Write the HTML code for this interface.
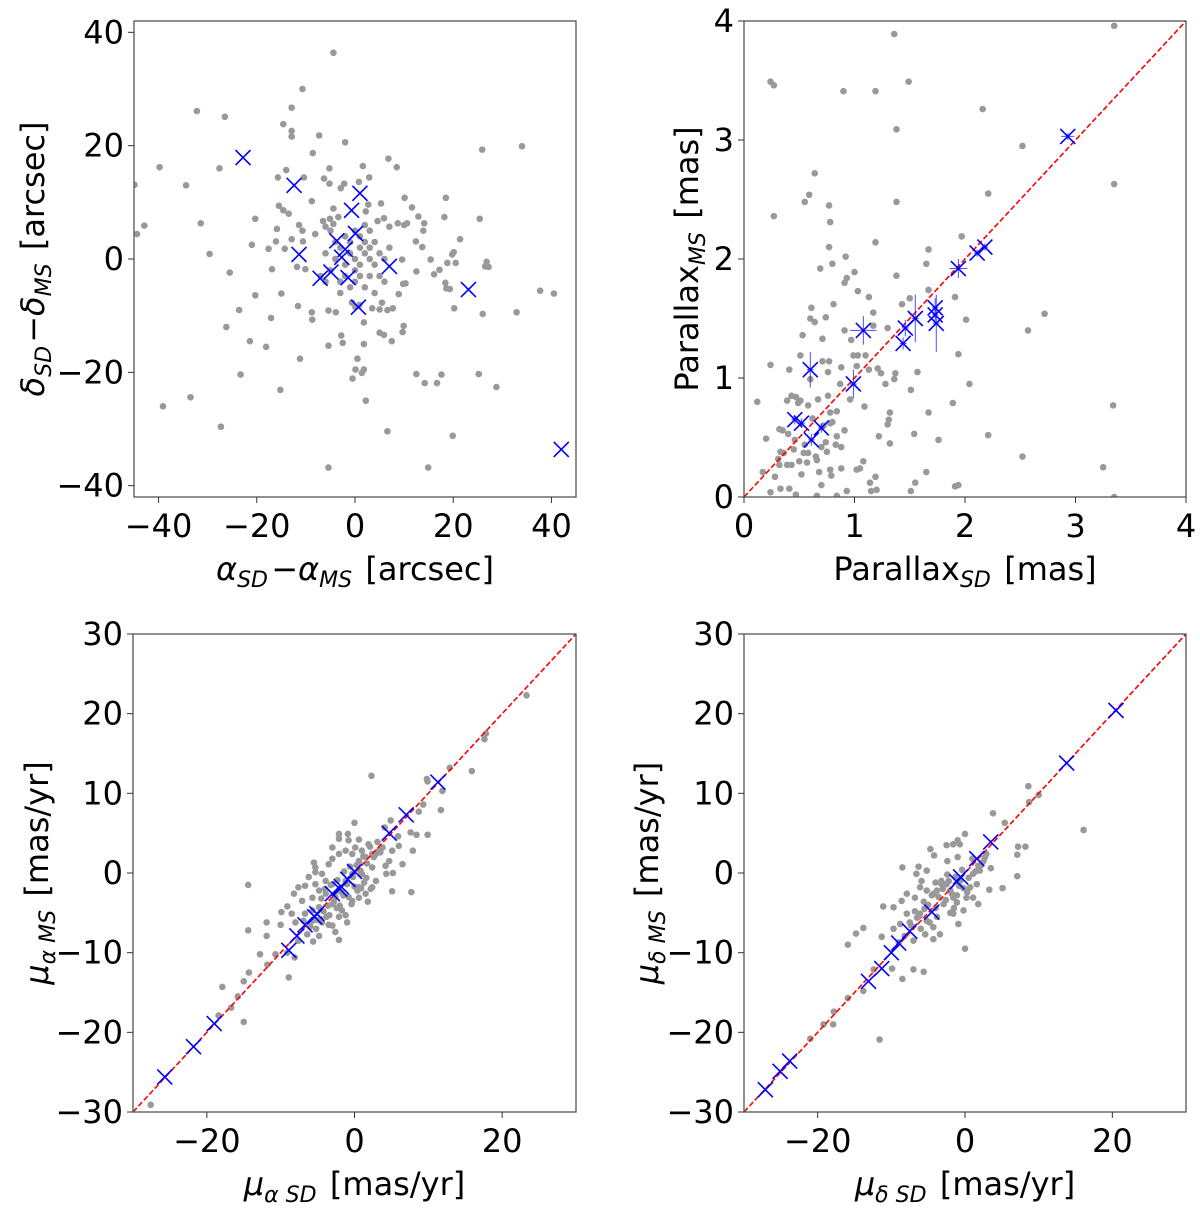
<!DOCTYPE html>
<html><head><meta charset="utf-8"><style>
html,body{margin:0;padding:0;background:#fff;}
svg{display:block;}
text{font-family:"DejaVu Sans","Liberation Sans",sans-serif;fill:#000;}
</style></head><body>
<svg id="fig" width="1200" height="1208" viewBox="0 0 1200 1208" xmlns="http://www.w3.org/2000/svg"></svg>
<script>
// ---- Panel 1: position offsets ----
const p1GrayX=[-4.4,-10.7,-32.2,-26.5,-12.9,-14.6,-12.9,-12.9,-7.3,-2.0,-8.6,6.8,8.5,25.9,34.0,-39.8,-27.6,-14.0,-5.2,1.6,-15.7,-10.4,-6.3,-5.2,-2.9,-2.2,2.9,0.8,-44.9,-34.4,-8.8,10.1,18.5,-15.5,-14.6,-13.5,-4.4,2.2,2.7,5.3,-42.9,-44.4,-31.4,-20.3,-11.4,-10.7,-15.9,-6.5,-5.1,-3.4,-4.4,-6.0,11.6,12.9,14.1,10.6,10.0,8.7,7.0,5.9,4.6,18.2,25.4,21.4,13.9,12.4,13.7,-8.1,-10.6,-12.9,-16.1,-21.0,-17.6,-14.3,-29.6,-25.5,-16.9,-11.8,-10.1,20.1,19.8,18.8,20.5,26.8,26.5,27.2,15.4,9.6,16.1,17.2,12.5,9.8,10.3,8.9,18.4,18.6,19.3,37.7,40.5,-20.3,-15.0,-11.6,-23.6,-17.1,-8.8,-8.7,-5.4,-3.9,-0.6,0.1,0.9,5.5,5.0,6.6,7.7,3.5,1.8,20.2,26.0,32.9,-26.2,-21.4,-18.1,-11.2,-5.4,-2.5,-2.8,5.0,5.9,7.5,9.7,9.9,1.8,-23.3,-15.2,-33.5,-39.1,-27.3,-0.5,0.1,1.4,1.8,0.5,2.2,12.5,14.2,16.7,17.6,25.2,28.8,6.6,19.9,-5.4,14.9,
-3,-1,1,2,3,-2,0,1,4,5,-4,-5,-3,2,4,0,-1,3,5,6,-6,-2,1,2,-3,0,1,-1,3,-4,4,6,-6,7,-7,0,2,-2,3,-5];
const p1GrayY=[36.4,30.0,26.1,25.1,26.7,23.8,22.6,21.6,21.8,20.6,18.7,17.7,16.2,19.3,19.9,16.2,16.0,15.7,16.0,16.4,14.4,14.4,14.2,13.3,12.5,13.3,14.4,13.6,13.1,13.0,10.2,10.8,10.8,9.4,8.6,8.0,8.9,8.4,9.6,9.8,5.9,4.4,6.3,7.1,6.0,5.0,5.3,6.7,7.1,7.4,6.2,5.7,9.1,7.5,6.3,6.3,6.0,6.3,5.7,7.2,6.7,7.4,7.1,3.5,5.0,3.1,2.1,4.4,3.1,3.5,3.1,2.5,1.8,1.8,0.9,-2.4,-1.8,-1.4,-1.8,1.2,0.8,-0.7,-0.7,-0.5,-1.3,-1.4,-0.1,-0.1,-2.7,-1.9,-2.2,-4.4,-4.3,-6.2,-4.2,-5.2,-5.3,-5.6,-6.1,-6.4,-6.1,-8.3,-9.0,-10.4,-9.4,-10.7,-9.1,-9.4,-7.7,-8.5,-8.1,-7.7,-8.9,-9.0,-8.7,-8.7,-11.2,-8.7,-9.7,-9.4,-12.0,-14.5,-15.5,-17.6,-15.3,-14.8,-13.5,-13.0,-13.4,-14.5,-12.9,-11.8,-15.0,-20.4,-23.1,-24.4,-26.0,-29.6,-21.1,-19.5,-20.1,-19.5,-17.6,-25.0,-20.3,-21.9,-21.9,-20.4,-20.3,-22.6,-30.4,-31.2,-36.8,-36.8,
2,3,2,1,0,-1,-2,-3,-1,1,0,-2,-4,-5,3,5,-5,-3,-3,0,1,4,4,6,-6,0,-1,1,2,3,-6,-4,-4,2,-3,-4,3,-3,5,5];
const p1BlueX=[-22.8,-12.4,1.0,-0.7,0.1,-3.7,-2.0,-2.7,-11.4,7.0,-4.9,-7.1,-1.4,0.7,23.1,42.0];
const p1BlueY=[17.9,13.0,11.6,8.6,4.5,3.2,1.7,0.3,0.8,-1.3,-2.3,-3.4,-3.3,-8.5,-5.4,-33.6];
const p1XTicks=[-40,-20,0,20,40];
const p1YTicks=[-40,-20,0,20,40];

// ---- Panel 2: parallax ----
const p2GrayX=[1.36,3.35,0.24,0.27,0.90,1.19,1.49,2.16,1.38,2.52,3.35,0.64,0.59,0.55,0.27,1.38,2.21,0.77,0.78,0.77,1.19,1.97,1.67,0.92,0.69,0.80,1.65,1.38,1.00,0.93,0.91,1.03,1.13,0.81,0.61,0.60,0.64,0.74,1.17,1.43,1.50,1.67,1.91,2.01,2.72,2.57,0.53,0.71,0.91,0.97,1.17,1.30,0.51,0.99,1.03,1.10,1.94,0.24,0.41,0.77,0.71,0.88,1.02,1.13,1.21,1.24,1.37,1.57,1.36,1.28,2.04,0.87,0.76,0.60,1.51,0.12,0.43,0.39,0.51,0.49,0.58,0.67,0.76,0.78,0.84,0.96,1.09,1.32,1.31,1.30,1.89,1.67,3.34,0.20,0.32,0.40,0.46,0.54,0.58,0.33,0.36,0.31,0.39,0.43,0.32,0.28,0.17,0.24,0.33,0.41,0.47,0.52,0.57,0.66,0.68,0.70,0.78,0.79,0.70,0.74,0.75,0.78,0.84,0.83,0.88,0.91,0.88,0.93,0.84,1.02,1.05,1.08,0.66,1.19,1.14,1.15,1.20,1.22,1.32,1.54,1.76,1.65,1.55,1.51,1.91,1.94,2.21,2.52,3.25,3.35,0.47,0.62,0.72,0.45,0.55,0.80,0.35,0.65,0.50];
const p2GrayY=[3.89,3.96,3.49,3.46,3.41,3.41,3.49,3.26,3.09,2.95,2.63,2.72,2.54,2.48,2.36,2.48,2.55,2.45,2.31,2.10,2.14,2.19,2.08,2.02,1.92,1.96,1.96,1.86,1.89,1.84,1.80,1.73,1.68,1.62,1.59,1.50,1.47,1.51,1.55,1.62,1.67,1.74,1.68,1.49,1.54,1.40,1.36,1.33,1.40,1.32,1.44,1.42,1.19,1.19,1.19,1.19,1.20,1.11,1.07,1.14,1.14,1.09,1.10,1.07,1.08,1.04,1.04,1.05,0.99,0.95,0.95,0.95,1.05,0.99,0.90,0.80,0.85,0.81,0.81,0.79,0.77,0.82,0.85,0.71,0.72,0.82,0.76,0.71,0.65,0.61,0.79,0.71,0.77,0.49,0.57,0.53,0.48,0.37,0.37,0.38,0.37,0.32,0.27,0.27,0.27,0.17,0.21,0.04,0.07,0.07,0.02,0.19,0.29,0.31,0.21,0.10,0.23,0.18,0.42,0.46,0.38,0.62,0.51,0.44,0.42,0.56,0.24,0.05,0.01,0.23,0.24,0.30,0.01,0.17,0.12,0.05,0.06,0.51,0.45,0.53,0.48,0.21,0.12,0.05,0.09,0.10,0.52,0.34,0.25,0.0,0.84,0.66,0.60,0.40,0.44,0.63,0.56,0.34,0.30];
const p2BlueX=[2.93,2.18,2.11,1.94,1.73,1.73,1.74,1.55,1.46,1.44,1.08,0.99,0.60,0.46,0.52,0.70,0.61];
const p2BlueY=[3.03,2.10,2.05,1.92,1.59,1.53,1.46,1.50,1.42,1.29,1.40,0.95,1.07,0.65,0.62,0.58,0.48];
const p2XErr=[0.06,0.03,0.03,0.08,0.03,0.03,0.03,0.03,0.03,0.03,0.12,0.03,0.03,0.03,0.03,0.03,0.03];
const p2YErr=[0.03,0.03,0.03,0.08,0.08,0.05,0.24,0.2,0.07,0.05,0.12,0.12,0.15,0.04,0.04,0.04,0.05];
const p2Ticks=[0,1,2,3,4];

// ---- Panel 3: proper motion RA ----
const p3GrayX=[23.3,17.8,17.6,15.9,12.9,9.8,9.9,11.9,11.7,2.3,9.3,8.7,9.9,8.4,7.6,5.9,7.9,6.5,5.2,5.1,7.7,0,-0.9,-2.1,0.6,4.9,4.1,4.3,4.7,3.3,2.4,1.5,1.0,0.6,-0.3,-1.2,-2.1,-3.0,-3.5,-5.3,-5.5,-5.3,-7.6,-6.7,-8.2,-7.1,-5.7,-4.8,-3.9,-3.0,-1.7,-0.3,0.6,1.5,2.4,2.9,1.8,-4.8,-5.7,-6.7,-8.5,-9.9,-9.1,-8.0,-6.9,-5.7,-4.4,-3.5,-2.1,-1.0,-2.6,-2.1,-4.8,-5.6,-6.4,-7.6,-10.0,-11.9,-11.9,-12.8,-10.7,-9.1,-8.1,-11.8,-14.3,-15.0,-8.9,-14.4,-14.4,-17.9,-15.8,-16.7,-18.4,-15.0,-27.6,-2.1,-3.0,-0.8,0.1,1.9,3.8,2.9,-0.3,-1.2,-3.0,-3.9,-2.1,0.6,-5.3,-6.2,-4.4,1.0,2.4,4.2,5.1,6.0,
-4.5,-4.0,-3.6,-3.2,-2.6,-2.3,-1.8,-1.4,-1.0,-0.6,-0.2,0.3,0.8,1.2,1.7,2.1,2.6,3.1,3.5,-5.0,-4.2,-3.4,-2.8,-2.0,-1.5,-0.8,0.0,0.9,1.6,-6.0,-5.2,-4.6,-3.8,-3.0,-2.4,-1.2,-0.4,0.4,1.3,2.2];
const p3GrayY=[22.3,17.5,16.8,12.8,13.2,11.8,11.5,10.3,7.9,12.2,8.6,7.7,4.8,4.8,5.1,4.6,2.8,1.1,0,-2.3,-2.4,6.3,4.9,4.3,4.2,6.6,5.7,-0.1,1.5,2.8,2.4,2.0,2.8,1.5,2.4,2.8,2.4,1.8,1.1,0.7,1.3,0.1,-1.8,-1.6,-2.6,-3.5,-3.1,-2.2,-2.6,-3.9,-4.7,-3.5,-3.1,-2.6,-1.8,-1.0,-3.6,-4.3,-4.7,-5.1,-5.1,-4.9,-4.2,-6.2,-6.0,-6.0,-6.2,-6.5,-5.5,-6.2,-7.4,-8.4,-7.9,-8.6,-7.7,-8.5,-6.5,-6.2,-7.9,-10.2,-10.2,-10.0,-10.6,-11.5,-12.5,-13.6,-13.1,-7.2,-1.5,-14.3,-15.5,-16.9,-17.9,-18.7,-29.1,4.9,3.2,4.1,3.2,3.6,3.2,2.4,-0.1,-1.0,-1.4,-1.0,-2.2,-1.8,-1.4,-0.5,-0.1,-0.1,0.7,0.9,2.8,3.4,
-3.2,-2.0,-4.1,-1.5,-3.0,-0.9,-2.4,0.2,-1.4,0.8,-0.5,1.0,0.3,2.1,1.2,3.3,2.0,3.9,2.6,-5.9,-4.8,-5.3,-3.6,-4.1,-2.8,-3.0,-1.7,-1.9,-0.6,-6.7,-7.0,-5.8,-5.5,-6.6,-4.4,-5.3,-3.9,-2.2,-1.2,-2.0];
const p3BlueX=[11.3,7.0,4.7,0,-0.9,-1.8,-2.0,-3.0,-5.1,-5.4,-6.7,-7.8,-8.9,-19.0,-21.8,-25.7];
const p3BlueY=[11.4,7.3,5.0,0.2,-0.8,-1.7,-2.0,-2.6,-5.1,-5.5,-6.5,-7.9,-9.7,-18.9,-21.8,-25.6];

// ---- Panel 4: proper motion Dec ----
const p4GrayX=[8.6,10.0,8.7,3.8,5.4,16.1,0,-1.0,-1.6,-2.5,-0.7,-4.7,-4.2,-2.4,-1.0,7.2,8.2,7.1,7.1,5.1,3.3,3.5,2.9,2.5,2.0,1.1,1.6,0.7,0.2,1.1,1.8,-0.2,-1.1,-1.6,-2.0,-2.5,-3.2,-3.8,-4.3,-5.2,-6.1,-6.6,-8.5,-6.3,-5.2,-5.9,-6.8,-7.9,-8.6,-9.7,-11.1,-7.9,-8.8,-9.7,-6.1,-5.2,-4.3,-3.4,-5.4,-4.3,-1.6,-0.9,0,-7.0,-5.6,-8.5,-9.9,-11.3,-13.8,-14.8,-15.9,-12.4,-13.8,-15.9,-17.8,-17.9,-19.2,-21.0,-11.6,
-3.0,-2.6,-2.2,-1.8,-1.3,-0.8,-0.4,0.5,1.0,1.4,2.2,-3.6,-4.0,-4.5,-5.0,-5.6,-6.2,-6.8,-7.3,-3.2,-2.4,-1.5,-0.6,0.3,-4.8,-5.5,-6.5,-7.5,-8.2,-3.8,-2.9,-2.0,-1.1,-9.0,-7.0,-6.0,1.8,2.7,-0.2,-4.0];
const p4GrayY=[10.9,9.8,8.9,7.5,6.3,5.4,4.9,4.1,3.6,3.5,3.6,3.0,2.2,1.5,2.0,3.3,3.3,2.3,-0.4,-1.9,-2.1,0.6,2.4,1.5,0.3,-0.1,-1.4,-1.8,-3.1,-3.1,-3.9,-4.7,-3.7,-3.1,-2.2,-1.4,-1.0,-2.2,-2.6,-2.2,-1.8,-0.1,0.7,0.8,0.3,-1.0,-3.1,-2.6,-3.5,-4.3,-4.2,-5.1,-6.4,-7.0,-5.1,-6.0,-6.8,-7.7,-7.7,-8.3,-5.1,-6.4,-9.5,-12.1,-12.4,-13.3,-12.0,-8.0,-6.9,-7.6,-9.0,-12.1,-14.8,-15.7,-17.4,-19.0,-19.0,-20.8,-20.9,
-2.0,-3.4,-1.0,-2.6,-0.5,-1.6,0.4,-0.6,1.8,0.2,1.0,-3.0,-4.4,-2.8,-4.0,-3.6,-5.4,-4.8,-6.6,-1.4,-0.2,-4.4,-0.9,-2.4,-6.2,-4.5,-5.6,-6.2,-7.9,-5.5,-3.9,-5.0,-2.8,-8.7,-8.5,-7.0,0.9,2.0,-1.9,-1.2];
const p4BlueX=[20.5,13.8,3.5,1.6,-0.6,-1.1,-4.5,-7.5,-9.0,-10.0,-11.3,-13.1,-23.8,-25.1,-27.1];
const p4BlueY=[20.4,13.8,3.9,1.8,-0.5,-1.1,-4.9,-7.3,-8.8,-10.0,-12.0,-13.6,-23.6,-24.9,-27.2];
const pmTicks=[-30,-20,-10,0,10,20,30];
const pmXTicks=[-20,0,20];

const NS='http://www.w3.org/2000/svg';
const svg=document.getElementById('fig');
function mk(tag,attrs,parent){const e=document.createElementNS(NS,tag);for(const k in attrs)e.setAttribute(k,attrs[k]);(parent||svg).appendChild(e);return e;}

function panel(cfg){
  const g=mk('g',{});
  
  
  const sx=v=>cfg.x0+(v-cfg.xmin)/(cfg.xmax-cfg.xmin)*(cfg.x1-cfg.x0);
  const sy=v=>cfg.y1-(v-cfg.ymin)/(cfg.ymax-cfg.ymin)*(cfg.y1-cfg.y0);
  const clip='clip-'+cfg.name;
  const cp=mk('clipPath',{id:clip},g);
  mk('rect',{x:cfg.x0,y:cfg.y0,width:cfg.x1-cfg.x0,height:cfg.y1-cfg.y0},cp);
  const plot=mk('g',{'clip-path':'url(#'+clip+')'},g);
  for(let i=0;i<cfg.gx.length;i++){
    const c=mk('circle',{cx:sx(cfg.gx[i]),cy:sy(cfg.gy[i]),r:3.3,fill:'#999999'},plot);
    
    
  }
  if(cfg.diag){
    const l=mk('line',{x1:sx(cfg.xmin),y1:sy(cfg.xmin),x2:sx(cfg.xmax),y2:sy(cfg.xmax),stroke:'#ff0000','stroke-width':1.6,'stroke-dasharray':'5.5,2.5'},plot);
    
    
  }
  for(let i=0;i<cfg.bx.length;i++){
    const x=sx(cfg.bx[i]),y=sy(cfg.by[i]);
    if(cfg.ex){
      const ex=Math.abs(sx(cfg.bx[i]+cfg.ex[i])-x), ey=Math.abs(sy(cfg.by[i]+cfg.ey[i])-y);
      const eb=mk('path',{d:`M${x-ex},${y}H${x+ex}M${x},${y-ey}V${y+ey}`,stroke:'#0000ff','stroke-width':1,'stroke-opacity':0.7,fill:'none'},plot);
      
      
    }
    const s=7.5;
    const m=mk('path',{d:`M${x-s},${y-s}L${x+s},${y+s}M${x-s},${y+s}L${x+s},${y-s}`,stroke:'#0000ff','stroke-width':1.6,fill:'none'},plot);
    
    
  }
  const fr=mk('rect',{x:cfg.x0,y:cfg.y0,width:cfg.x1-cfg.x0,height:cfg.y1-cfg.y0,fill:'none',stroke:'#555','stroke-width':1.3},g);
  
  
  for(const t of cfg.xt){
    const X=sx(t);
    mk('line',{x1:X,y1:cfg.y1,x2:X,y2:cfg.y1+6,stroke:'#333','stroke-width':1},g);
    const tx=mk('text',{x:X,y:cfg.y1+40,'font-size':32,'text-anchor':'middle'},g);
    tx.textContent=(t<0?'\u2212':'')+Math.abs(t);
    
    
  }
  for(const t of cfg.yt){
    const Y=sy(t);
    mk('line',{x1:cfg.x0-6,y1:Y,x2:cfg.x0,y2:Y,stroke:'#333','stroke-width':1},g);
    const tx=mk('text',{x:cfg.x0-10,y:Y+11,'font-size':32,'text-anchor':'end'},g);
    tx.textContent=(t<0?'\u2212':'')+Math.abs(t);
    
    
  }
  const xl=mk('text',{x:(cfg.x0+cfg.x1)/2,y:cfg.y1+83,'font-size':32,'text-anchor':'middle'},g);
  xl.innerHTML=cfg.xlabel;
  
  
  const yc=(cfg.y0+cfg.y1)/2;
  const yl=mk('text',{x:0,y:0,'font-size':32,'text-anchor':'middle',transform:`translate(${cfg.ylx},${yc}) rotate(-90)`},g);
  yl.innerHTML=cfg.ylabel;
  
  
}
const it='font-style="italic"';
const sub=(s)=>`<tspan ${it} font-size="22" dy="7">${s}</tspan><tspan dy="-7">\u200a</tspan>`;
panel({name:'position-offset-panel',x0:134,x1:576,y0:21,y1:497,xmin:-45,xmax:45,ymin:-42,ymax:42,
  gx:p1GrayX,gy:p1GrayY,bx:p1BlueX,by:p1BlueY,xt:p1XTicks,yt:p1YTicks,diag:false,
  xlabel:`<tspan ${it}>α</tspan>${sub('SD')}\u2212<tspan ${it}>α</tspan>${sub('MS')} [arcsec]`,
  ylabel:`<tspan ${it}>δ</tspan>${sub('SD')}\u2212<tspan ${it}>δ</tspan>${sub('MS')} [arcsec]`,ylx:44});
panel({name:'parallax-panel',x0:744,x1:1186,y0:21,y1:497,xmin:0,xmax:4,ymin:0,ymax:4,
  gx:p2GrayX,gy:p2GrayY,bx:p2BlueX,by:p2BlueY,ex:p2XErr,ey:p2YErr,xt:p2Ticks,yt:p2Ticks,diag:true,
  xlabel:`Parallax${sub('SD')} [mas]`,ylabel:`Parallax${sub('MS')} [mas]`,ylx:698});
panel({name:'pm-ra-panel',x0:133,x1:576,y0:634,y1:1112,xmin:-30,xmax:30,ymin:-30,ymax:30,
  gx:p3GrayX,gy:p3GrayY,bx:p3BlueX,by:p3BlueY,xt:pmXTicks,yt:pmTicks,diag:true,
  xlabel:`<tspan ${it}>μ</tspan>${sub('α SD')} [mas/yr]`,ylabel:`<tspan ${it}>μ</tspan>${sub('α MS')} [mas/yr]`,ylx:48});
panel({name:'pm-dec-panel',x0:744,x1:1186,y0:634,y1:1112,xmin:-30,xmax:30,ymin:-30,ymax:30,
  gx:p4GrayX,gy:p4GrayY,bx:p4BlueX,by:p4BlueY,xt:pmXTicks,yt:pmTicks,diag:true,
  xlabel:`<tspan ${it}>μ</tspan>${sub('δ SD')} [mas/yr]`,ylabel:`<tspan ${it}>μ</tspan>${sub('δ MS')} [mas/yr]`,ylx:658});
</script>
</body></html>
